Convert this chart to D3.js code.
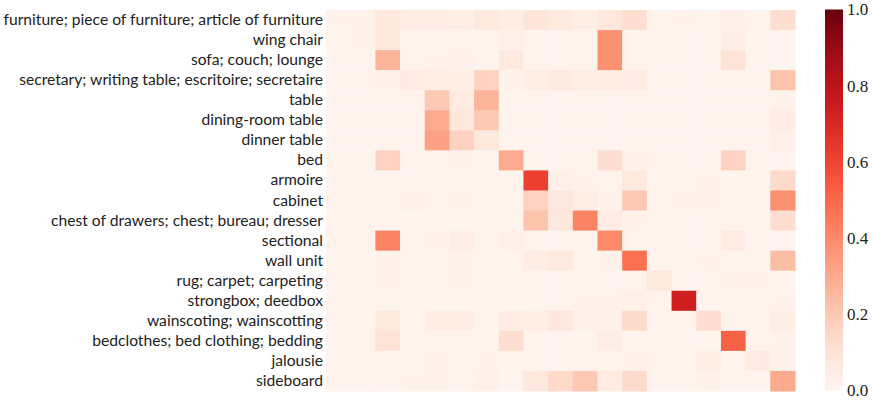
<!DOCTYPE html>
<html>
<head>
<meta charset="utf-8">
<script src="https://cdnjs.cloudflare.com/ajax/libs/d3/7.8.5/d3.min.js"></script>
<style>
  body { margin: 0; background: #fff; }
</style>
</head>
<body>
<svg id="chart"></svg>
<script>
const outerWidth = 872;
const outerHeight = 405;
const margin = {left: 326, top: 10, right: 77, bottom: 14};
const width = outerWidth - margin.left - margin.right;
const height = outerHeight - margin.top - margin.bottom;

const categories = [
  "furniture; piece of furniture; article of furniture",
  "wing chair",
  "sofa; couch; lounge",
  "secretary; writing table; escritoire; secretaire",
  "table",
  "dining-room table",
  "dinner table",
  "bed",
  "armoire",
  "cabinet",
  "chest of drawers; chest; bureau; dresser",
  "sectional",
  "wall unit",
  "rug; carpet; carpeting",
  "strongbox; deedbox",
  "wainscoting; wainscotting",
  "bedclothes; bed clothing; bedding",
  "jalousie",
  "sideboard"
];

// one row per true category, columns = predicted category (same order)
const rowFurniture   = [0.02,0.02,0.08,0.05,0.05,0.04,0.07,0.05,0.09,0.07,0.04,0.08,0.12,0.01,0.02,0.01,0.03,0.01,0.12];
const rowWingChair   = [0.01,0.02,0.08,0.01,0.01,0.01,0.01,0.03,0.01,0.01,0.01,0.38,0.01,0.01,0.01,0.01,0.04,0.01,0.01];
const rowSofa        = [0.01,0.01,0.27,0.01,0.02,0.03,0.01,0.07,0.01,0.01,0.01,0.38,0.01,0.01,0.01,0.01,0.10,0.01,0.01];
const rowSecretary   = [0.01,0.01,0.03,0.06,0.04,0.04,0.17,0.02,0.04,0.07,0.04,0.05,0.06,0.01,0.01,0.01,0.01,0.01,0.22];
const rowTable       = [0.01,0.01,0.01,0.01,0.20,0.06,0.27,0.01,0.01,0.01,0.01,0.01,0.01,0.01,0.01,0.01,0.01,0.01,0.02];
const rowDiningTable = [0.01,0.01,0.01,0.01,0.30,0.08,0.20,0.01,0.01,0.01,0.01,0.01,0.01,0.01,0.01,0.01,0.01,0.01,0.05];
const rowDinnerTable = [0.01,0.01,0.01,0.01,0.33,0.17,0.08,0.01,0.01,0.01,0.01,0.01,0.01,0.01,0.01,0.01,0.01,0.01,0.03];
const rowBed         = [0.01,0.01,0.17,0.01,0.01,0.02,0.01,0.30,0.01,0.01,0.01,0.12,0.03,0.01,0.01,0.01,0.17,0.01,0.01];
const rowArmoire     = [0.01,0.01,0.01,0.01,0.01,0.01,0.01,0.01,0.62,0.03,0.02,0.01,0.07,0.01,0.01,0.02,0.01,0.01,0.14];
const rowCabinet     = [0.01,0.01,0.01,0.03,0.01,0.02,0.01,0.01,0.17,0.08,0.04,0.02,0.20,0.01,0.02,0.02,0.01,0.01,0.38];
const rowChest       = [0.01,0.01,0.01,0.01,0.01,0.01,0.01,0.01,0.22,0.08,0.42,0.05,0.02,0.01,0.01,0.01,0.01,0.01,0.12];
const rowSectional   = [0.01,0.01,0.42,0.01,0.02,0.04,0.01,0.03,0.01,0.01,0.01,0.40,0.01,0.01,0.01,0.01,0.06,0.01,0.01];
const rowWallUnit    = [0.01,0.01,0.02,0.01,0.01,0.02,0.01,0.01,0.05,0.07,0.01,0.02,0.48,0.01,0.01,0.02,0.01,0.01,0.24];
const rowRug         = [0.01,0.01,0.02,0.01,0.01,0.02,0.01,0.01,0.01,0.01,0.01,0.01,0.01,0.07,0.01,0.01,0.02,0.02,0.01];
const rowStrongbox   = [0.01,0.01,0.01,0.01,0.01,0.01,0.01,0.01,0.01,0.01,0.02,0.02,0.03,0.01,0.74,0.01,0.01,0.01,0.02];
const rowWainscoting = [0.01,0.01,0.07,0.01,0.05,0.05,0.01,0.05,0.04,0.08,0.03,0.02,0.13,0.01,0.01,0.12,0.01,0.01,0.04];
const rowBedclothes  = [0.01,0.01,0.10,0.01,0.01,0.01,0.01,0.12,0.01,0.01,0.01,0.04,0.01,0.01,0.01,0.01,0.52,0.01,0.02];
const rowJalousie    = [0.01,0.01,0.01,0.01,0.02,0.01,0.02,0.01,0.01,0.01,0.01,0.01,0.03,0.01,0.01,0.04,0.01,0.06,0.02];
const rowSideboard   = [0.01,0.01,0.01,0.02,0.02,0.01,0.03,0.01,0.08,0.14,0.20,0.06,0.13,0.01,0.01,0.02,0.01,0.01,0.30];

const matrix = [rowFurniture, rowWingChair, rowSofa, rowSecretary, rowTable, rowDiningTable,
  rowDinnerTable, rowBed, rowArmoire, rowCabinet, rowChest, rowSectional, rowWallUnit, rowRug,
  rowStrongbox, rowWainscoting, rowBedclothes, rowJalousie, rowSideboard];

const colorTicks = [0.0, 0.2, 0.4, 0.6, 0.8, 1.0];

const cells = [];
matrix.forEach((row, i) => row.forEach((v, j) => cells.push({row: i, col: j, value: v})));

const svg = d3.select("#chart")
  .attr("width", outerWidth)
  .attr("height", outerHeight);

const g = svg.append("g")
  .attr("transform", "translate(" + margin.left + "," + margin.top + ")");

const x = d3.scaleBand().domain(d3.range(categories.length)).range([0, 469]);
const y = d3.scaleBand().domain(d3.range(categories.length)).range([0, height]);
const color = d3.scaleSequential(d3.interpolateReds).domain([0, 1]);

g.selectAll("rect.cell")
  .data(cells)
  .enter()
  .append("rect")
  .attr("class", "cell")
  .attr("x", d => x(d.col))
  .attr("y", d => y(d.row))
  .attr("width", x.bandwidth() + 0.5)
  .attr("height", y.bandwidth() + 0.5)
  .style("fill", d => color(d.value));

// row labels
const yAxis = d3.axisLeft(d3.scaleBand().domain(categories).range([0, height]))
  .tickSize(0).tickPadding(3);
const yg = g.append("g").call(yAxis);
yg.select(".domain").remove();
yg.selectAll("text")
  .style("font-family", "Lato, 'Open Sans', sans-serif")
  .style("font-size", "14px")
  .style("fill", "#222");

// fit the longest label to the space left of the grid
let longest = 0;
yg.selectAll("text").each(function () { longest = Math.max(longest, this.getComputedTextLength()); });
const fs = 14 * 320 / longest;
yg.selectAll("text").style("font-size", fs + "px");

// colorbar
const cbX = 825, cbW = 18;
const cbScale = d3.scaleLinear().domain([0, 1]).range([390.5, 9.5]);
const defs = svg.append("defs");
const grad = defs.append("linearGradient")
  .attr("id", "cbgrad")
  .attr("x1", "0").attr("y1", "1").attr("x2", "0").attr("y2", "0");
d3.range(0, 1.0001, 0.05).forEach(t => {
  grad.append("stop").attr("offset", t).attr("stop-color", color(t));
});
svg.append("rect")
  .attr("x", cbX)
  .attr("y", cbScale(1))
  .attr("width", cbW)
  .attr("height", cbScale(0) - cbScale(1))
  .style("fill", "url(#cbgrad)");

const cbAxis = d3.axisRight(cbScale).tickValues(colorTicks)
  .tickFormat(d3.format(".1f")).tickSize(0).tickPadding(4);
const cg = svg.append("g")
  .attr("transform", "translate(" + (cbX + cbW) + ",0)")
  .call(cbAxis);
cg.select(".domain").remove();
cg.selectAll("text")
  .style("font-family", "'Liberation Serif', 'DejaVu Serif', serif")
  .style("font-size", "17px")
  .style("fill", "#222");
</script>
</body>
</html>
